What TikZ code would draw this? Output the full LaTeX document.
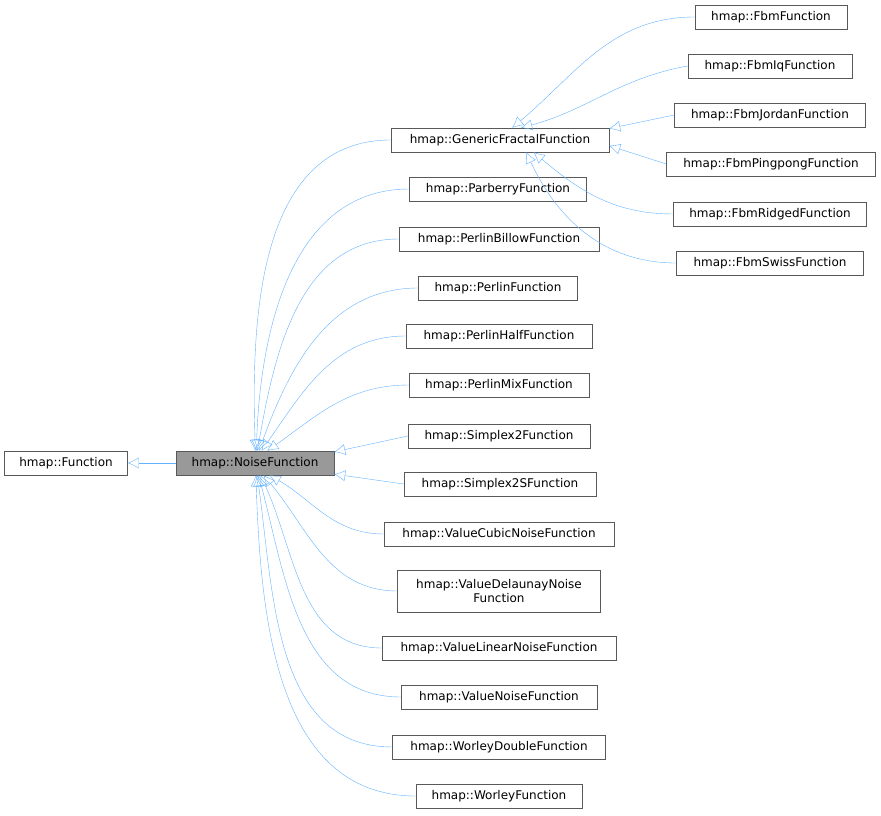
\documentclass[tikz,border=0pt]{standalone}
\usepackage{fontspec}
\setmainfont{DejaVu Sans}
\usetikzlibrary{arrows.meta}
\tikzset{
  cls/.style={draw=black!65, fill=white, inner sep=0pt, minimum height=24pt,
    font=\fontsize{12}{13.5}\selectfont, align=center},
  edge/.style={draw={rgb,255:red,99;green,178;blue,255}, thin,
    {Latex[open,length=11pt,width=11pt]}-},
}
\begin{document}
\begin{tikzpicture}[x=1pt,y=-1pt]
    \useasboundingbox (0,0) rectangle (881,816);

    \node [cls, minimum width=123pt] (func) at (66,463) {hmap::Function};
    \node [cls, minimum width=158pt, fill=black!40] (noise) at (255,463) {hmap::NoiseFunction};

    \node [cls, minimum width=218pt] (generic)  at (500,140) {hmap::GenericFractalFunction};
    \node [cls, minimum width=177pt] (parberry) at (498,189) {hmap::ParberryFunction};
    \node [cls, minimum width=200pt] (billow)   at (499,239) {hmap::PerlinBillowFunction};
    \node [cls, minimum width=159pt] (perlin)   at (498,288) {hmap::PerlinFunction};
    \node [cls, minimum width=186pt] (half)     at (499,336) {hmap::PerlinHalfFunction};
    \node [cls, minimum width=180pt] (mix)      at (499,385) {hmap::PerlinMixFunction};
    \node [cls, minimum width=182pt] (simplex)  at (499,436) {hmap::Simplex2Function};
    \node [cls, minimum width=192pt] (simplexs) at (500,484) {hmap::Simplex2SFunction};
    \node [cls, minimum width=230pt] (cubic)    at (499,534) {hmap::ValueCubicNoiseFunction};
    \node [cls, minimum width=203pt, minimum height=42pt] (delaunay) at (499,591)
      {hmap::ValueDelaunayNoise\\Function};
    \node [cls, minimum width=234pt] (linear)   at (499,648) {hmap::ValueLinearNoiseFunction};
    \node [cls, minimum width=196pt] (value)    at (499,697) {hmap::ValueNoiseFunction};
    \node [cls, minimum width=213pt] (wdouble)  at (499,747) {hmap::WorleyDoubleFunction};
    \node [cls, minimum width=166pt] (worley)   at (499,796) {hmap::WorleyFunction};

    \node [cls, minimum width=152pt] (fbm)      at (771,17)  {hmap::FbmFunction};
    \node [cls, minimum width=164pt] (fbmiq)    at (770,66)  {hmap::FbmIqFunction};
    \node [cls, minimum width=191pt] (jordan)   at (770,115) {hmap::FbmJordanFunction};
    \node [cls, minimum width=209pt] (pingpong) at (771,164) {hmap::FbmPingpongFunction};
    \node [cls, minimum width=193pt] (ridged)   at (770,214) {hmap::FbmRidgedFunction};
    \node [cls, minimum width=187pt] (swiss)    at (770,263) {hmap::FbmSwissFunction};

    \draw [edge] (func) -- (noise);

    % children of the noise function
    \draw [edge] (noise.88) to [in=180, out=92] (generic.west);
    \draw [edge] (noise.84) to [in=180, out=88] (parberry.west);
    \draw [edge] (noise.79) to [in=180, out=80] (billow.west);
    \draw [edge] (noise.72) to [in=180, out=70] (perlin.west);
    \draw [edge] (noise.62) to [in=180, out=55] (half.west);
    \draw [edge] (noise.45) to [in=180, out=35] (mix.west);
    \draw [edge] (noise.8)  -- (simplex.west);
    \draw [edge] (noise.-8) -- (simplexs.west);
    \draw [edge] (noise.-40) to [in=180, out=-30] (cubic.west);
    \draw [edge] (noise.-55) to [in=180, out=-50] (delaunay.west);
    \draw [edge] (noise.-66) to [in=180, out=-65] (linear.west);
    \draw [edge] (noise.-74) to [in=180, out=-75] (value.west);
    \draw [edge] (noise.-80) to [in=180, out=-82] (wdouble.west);
    \draw [edge] (noise.-86) to [in=180, out=-88] (worley.west);

    % children of the generic fractal function
    \draw [edge] (generic.45) to [in=180, out=40] (fbm.west);
    \draw [edge] (generic.30) to [in=190, out=15] (fbmiq.west);
    \draw [edge] (generic.6)  -- (jordan.west);
    \draw [edge] (generic.-3) -- (pingpong.west);
    \draw [edge] (generic.-20) to [in=180, out=-40] (ridged.west);
    \draw [edge] (generic.-25) to [in=180, out=-65] (swiss.west);
  \end{tikzpicture}
\end{document}
